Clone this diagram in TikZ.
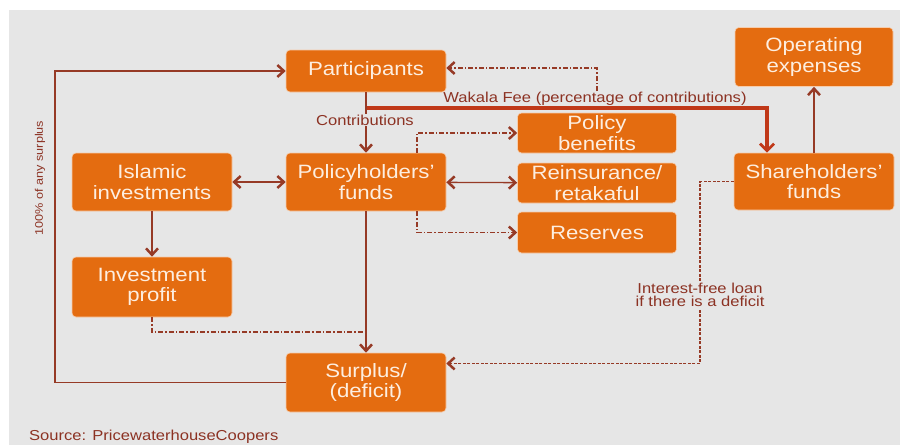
\documentclass[tikz,border=0pt]{standalone}
\usepackage{fontspec}
\setmainfont{Liberation Sans}[FakeStretch=1.15]
\usetikzlibrary{arrows.meta}
\definecolor{boxorange}{RGB}{228,108,16}
\definecolor{boxtext}{RGB}{253,238,224}
\definecolor{linebrown}{RGB}{150,58,38}
\definecolor{feered}{RGB}{192,56,24}
\definecolor{labelbrown}{RGB}{140,50,35}
\definecolor{bggrey}{RGB}{230,230,230}
\tikzstyle{fundbox} = [fill=boxorange, draw=boxorange!35, line width=0.6pt, rounded corners=4pt, text=boxtext, align=center, inner sep=0pt, minimum width=160pt, font=\fontsize{19.3}{20.5}\selectfont]
\tikzstyle{flow} = [draw=linebrown, line width=1.3pt, ->]
\tikzstyle{twoway} = [flow, <->]
\tikzstyle{dashdot} = [draw=linebrown, line width=1.1pt, dash pattern=on 5pt off 2pt on 1.5pt off 2pt]
\tikzstyle{loan} = [draw=linebrown, line width=1.1pt, dash pattern=on 3pt off 1.5pt]
\tikzstyle{fee} = [draw=feered, line width=3.5pt, -{Straight Barb[length=7pt,width=14pt,line width=2.8pt]}]
\tikzstyle{note} = [text=labelbrown, fill=bggrey, inner sep=1pt, align=center, font=\fontsize{14.4}{13.5}\selectfont]
\begin{document}
\begin{tikzpicture}[x=1pt, y=-1pt, >={Straight Barb[length=6.5pt,width=12pt,line width=2.5pt]}]
		\useasboundingbox[fill=white] (0,0) rectangle (900,445);
		\fill[bggrey] (9,10) rectangle (900,445);
		\node[fundbox, minimum height=42pt] (part) at (366,71) {Participants};
		\node[fundbox, minimum height=59pt, minimum width=158pt] (opex) at (814,57) {Operating\\expenses};
		\node[fundbox, minimum height=40pt, minimum width=159pt] (polben) at (597,133) {Policy\\benefits};
		\node[fundbox, minimum height=40pt, minimum width=159pt] (reins) at (597,183) {Reinsurance/\\retakaful};
		\node[fundbox, minimum height=41pt, minimum width=159pt] (resv) at (597,232.5) {Reserves};
		\node[fundbox, minimum height=57pt] (share) at (814,181.5) {Shareholders'\\funds};
		\node[fundbox, minimum height=58pt] (islam) at (152,182) {Islamic\\investments};
		\node[fundbox, minimum height=58pt] (polfund) at (366,182) {Policyholders'\\funds};
		\node[fundbox, minimum height=60pt] (invp) at (152,287) {Investment\\profit};
		\node[fundbox, minimum height=59pt] (surp) at (366,382.5) {Surplus/\\(deficit)};
		\coordinate (loopx) at (55,200);
		\coordinate (feestart) at (366,108);
		\coordinate (feetop) at (597,91);
		\coordinate (joint) at (366,332);
		\coordinate (loanx) at (700,300);
		\draw[flow] (surp.west) -| (loopx) |- (part.west);
		\node[note, fill=none, rotate=90, font=\fontsize{11}{11}\selectfont] (surplusnote) at (40,178) {100\% of any surplus};
		\draw[fee] (feestart) -| ([xshift=-47pt]share.north);
		\draw[flow] (part) -- (polfund);
		\node[note] (contrib) at (365,120) {Contributions};
		\node[note, fill=none] (feenote) at (595,99) {Wakala Fee (percentage of contributions)};
		\draw[dashdot, ->] (feetop) |- ([yshift=3pt]part.east);
		\draw[twoway] (polfund) -- (islam);
		\draw[twoway] (polfund) -- (reins);
		\draw[dashdot, ->] ([xshift=51pt]polfund.north) |- (polben.west);
		\draw[dashdot, ->] ([xshift=51pt]polfund.south) |- (resv.west);
		\draw[flow] (polfund) -- (surp);
		\draw[flow] (islam) -- (invp);
		\draw[dashdot] (invp.south) |- (joint);
		\draw[flow] (share.north) -- (opex.south);
		\draw[loan, ->] (share.west) -| (loanx) |- ([yshift=19pt]surp.east);
		\node[note] (loannote) at (700,295) {Interest-free loan\\if there is a deficit};
		\node[note, fill=none, anchor=west] (source) at (28,437) {Source: PricewaterhouseCoopers};
\end{tikzpicture}
\end{document}
